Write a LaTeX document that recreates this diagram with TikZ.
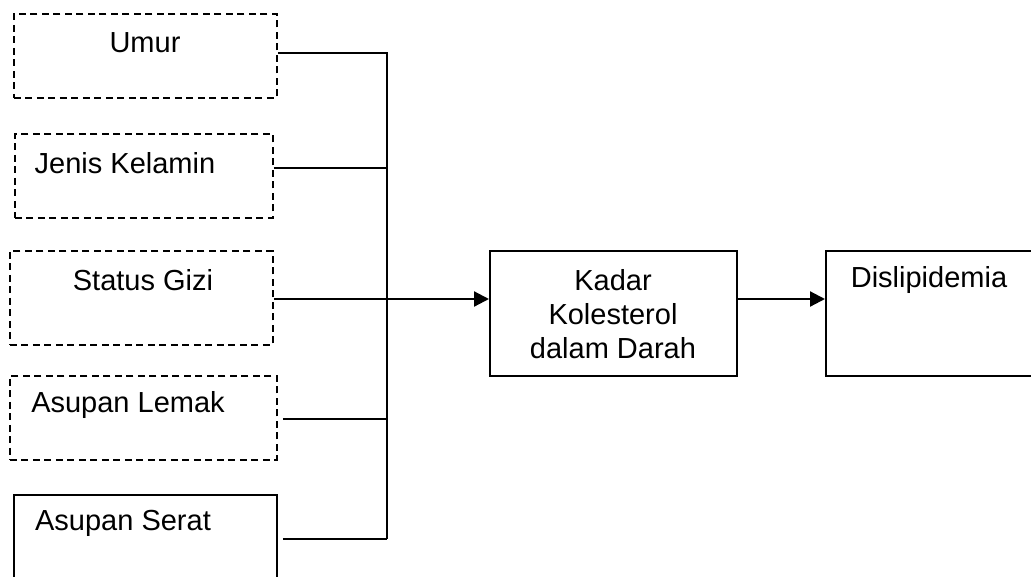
\documentclass[tikz,border=0pt]{standalone}
\usepackage{fontspec}
\setmainfont{Liberation Sans}
\usetikzlibrary{arrows.meta}
\begin{document}
\begin{tikzpicture}[x=1pt,y=-1pt,
  box/.style={draw,line width=1.8pt,inner sep=0pt},
  dbox/.style={box,dash pattern=on 7pt off 4.5pt},
  lbl/.style={font=\fontsize{29}{34}\selectfont,inner sep=0pt,align=center},
  wire/.style={line width=1.8pt},
  arr/.style={line width=2.2pt,-{Triangle[length=15pt,width=15pt]}}]
\clip (0,0) rectangle (1031,576);
\useasboundingbox (0,0) rectangle (1031,576);
% boxes
\node[dbox,minimum width=263pt,minimum height=84pt,anchor=north west] (umur) at (13,13) {};
\node[dbox,minimum width=258pt,minimum height=84pt,anchor=north west] (jenis) at (14,133) {};
\node[dbox,minimum width=263pt,minimum height=94pt,anchor=north west] (gizi) at (9,250) {};
\node[dbox,minimum width=267pt,minimum height=84pt,anchor=north west] (lemak) at (9,375) {};
\node[box,minimum width=263pt,minimum height=110pt,anchor=north west] (serat) at (13,494) {};
\node[box,minimum width=247pt,minimum height=125pt,anchor=north west] (kadar) at (489,250) {};
\node[box,minimum width=260pt,minimum height=125pt,anchor=north west] (disl) at (825,250) {};
% labels
\node[lbl] (tumur) at (145,43) {Umur};
\node[lbl] (tjenis) at (125,163) {Jenis Kelamin};
\node[lbl] (tgizi) at (143,280) {Status Gizi};
\node[lbl] (tlemak) at (128,405) {Asupan Lemak};
\node[lbl] (tserat) at (123,523) {Asupan Serat};
\node[lbl] (tkadar) at (613,314) {Kadar\\Kolesterol\\dalam Darah};
\node[lbl] (tdisl) at (929,280) {Dislipidemia};
% junction coordinates
\coordinate (j1) at (387,53);
\coordinate (j2) at (387,168);
\coordinate (j3) at (387,299);
\coordinate (j4) at (387,419);
\coordinate (j5) at (387,539);
% connectors
\draw[wire] (umur.east |- j1) -- (j1) -- (j5);
\draw[wire] (jenis.east |- j2) -- (j2);
\draw[wire] ([xshift=5pt]lemak.east |- j4) -- (j4);
\draw[wire] ([xshift=5pt]serat.east |- j5) -- (j5);
\draw[wire] (gizi.east |- j3) -- (j3);
\draw[arr] (j3) -- (kadar.west |- j3);
\draw[arr] (kadar.east |- j3) -- (disl.west |- j3);
\end{tikzpicture}
\end{document}
